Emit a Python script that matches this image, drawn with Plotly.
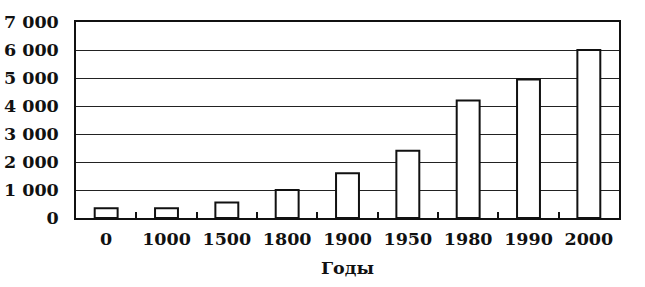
import plotly.graph_objects as go

years = ["0", "1000", "1500", "1800", "1900", "1950", "1980", "1990", "2000"]
population = [350, 350, 550, 1000, 1600, 2400, 4200, 4950, 6000]
y_tick_vals = [0, 1000, 2000, 3000, 4000, 5000, 6000, 7000]
y_tick_text = ["0", "1 000", "2 000", "3 000", "4 000", "5 000", "6 000", "7 000"]
x_title = "Годы"

tf = dict(family="DejaVu Serif", size=17.5, color="#111111", weight="bold")

fig = go.Figure()
fig.add_trace(go.Bar(
    x=years, y=population, width=0.38,
    marker=dict(color="white", line=dict(color="#111111", width=2)),
))
fig.update_layout(
    width=645, height=287,
    margin=dict(l=76, r=26, t=22, b=69),
    paper_bgcolor="white", plot_bgcolor="white",
    showlegend=False,
    font=tf,
)
fig.update_xaxes(
    type="category", automargin=False,
    showline=True, linecolor="#111111", linewidth=1.5, mirror=True,
    ticks="inside", tickson="boundaries", ticklen=6, tickwidth=1.5, tickcolor="#111111",
    showgrid=False, ticklabelstandoff=4,
    tickfont=tf,
    title=dict(text=x_title, font=tf, standoff=14),
)
fig.update_yaxes(
    range=[0, 7000], automargin=False,
    tickvals=y_tick_vals, ticktext=y_tick_text,
    showline=True, linecolor="#111111", linewidth=1.5, mirror=True,
    showgrid=True, gridcolor="#222222", gridwidth=1.3,
    ticks="", ticklabelstandoff=12,
    zeroline=False,
    tickfont=tf,
)
fig.write_html("out.html")
